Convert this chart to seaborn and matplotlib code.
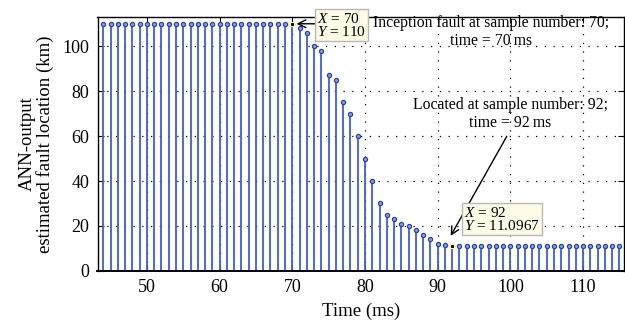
import numpy as np
import matplotlib
matplotlib.use("Agg")
import matplotlib.pyplot as plt
import seaborn as sns

# sample times (ms) and ANN output (km)
time_ms = list(range(44, 116))
ann_km = [110, 110, 110, 110, 110, 110, 110, 110, 110, 110,
          110, 110, 110, 110, 110, 110, 110, 110, 110, 110,
          110, 110, 110, 110, 110, 110, 110,
          108, 106, 100, 98, 87, 85, 75, 70, 60, 50,
          40, 30, 25, 23, 21, 20, 18, 16, 14, 12,
          11.4, 11.0967,
          11.1, 11.1, 11.1, 11.1, 11.1, 11.1, 11.1, 11.1, 11.1, 11.1,
          11.1, 11.1, 11.1, 11.1, 11.1, 11.1, 11.1, 11.1, 11.1, 11.1,
          11.1, 11.1, 11.1]
x_ticks = [50, 60, 70, 80, 90, 100, 110]
y_ticks = [0, 20, 40, 60, 80, 100]
tip_x = [70, 92]
tip_y = [110, 11.0967]

sns.set_style("ticks")
plt.rcParams['font.family'] = ['Liberation Serif', 'DejaVu Serif']
plt.rcParams['mathtext.fontset'] = 'custom'
plt.rcParams['mathtext.rm'] = 'Liberation Serif'
plt.rcParams['mathtext.it'] = 'Liberation Serif:italic'
plt.rcParams['text.color'] = 'black'
plt.rcParams['axes.labelcolor'] = 'black'

fig = plt.figure(figsize=(6.25, 3.34), dpi=100)
ax = fig.add_axes([0.156, 0.189, 0.842, 0.760])

stem_col = '#4660b4'
ax.vlines(time_ms, 0, ann_km, color=stem_col, linewidth=1.5, alpha=0.9, zorder=2)
sns.scatterplot(x=time_ms, y=ann_km, ax=ax, s=9, marker='o', color='#8da0dc',
                edgecolor='#2a45a0', linewidth=0.9, zorder=3, legend=False)
# datatip markers
ax.scatter(tip_x, tip_y, s=5, marker='s', color='black', edgecolor='#ffff80',
           linewidth=0.8, zorder=4)

ax.set_xlim(43.2, 115.6)
ax.set_ylim(0, 113)
ax.set_xticks(x_ticks)
ax.set_yticks(y_ticks)
ax.grid(True, color='black', linestyle=(0, (1, 6)), linewidth=0.9)
ax.tick_params(direction='in', length=4, width=0.8, top=True, right=True,
               labelsize=13, colors='black', pad=6)
for sp in ax.spines.values():
    sp.set_color('black')
    sp.set_linewidth(1.0)
ax.spines['bottom'].set_linewidth(1.4)

ax.set_xlabel('Time (ms)', fontsize=13.5, labelpad=5)
ax.set_ylabel('ANN-output\nestimated fault location (km)', fontsize=13.5,
              labelpad=6, linespacing=1.0)

# annotation 1: inception
ax.annotate('', xy=(70.2, 110), xytext=(80.8, 110),
            arrowprops=dict(arrowstyle='->', color='black', lw=1.0,
                            mutation_scale=14), zorder=5)
ax.text(97.4, 106.2, 'Inception fault at sample number: 70;\ntime = 70\u2009ms',
        ha='center', va='center', multialignment='center', fontsize=11.3,
        linespacing=1.15, zorder=6)
ax.text(73.4, 109.3, '$X$ = 70\n$Y$ = 110', ha='left', va='center',
        fontsize=11, linespacing=0.95, zorder=7, clip_on=False,
        bbox=dict(boxstyle='square,pad=0.15', facecolor='#fbfbe6',
                  edgecolor='#b8b8b8', linewidth=1.0))

# annotation 2: located
ax.annotate('', xy=(91.6, 14.5), xytext=(99.7, 61),
            arrowprops=dict(arrowstyle='->', color='black', lw=1.0,
                            mutation_scale=14), zorder=5)
ax.text(100.0, 70.0, 'Located at sample number: 92;\ntime = 92\u2009ms',
        ha='center', va='center', multialignment='center', fontsize=11.3,
        linespacing=1.15, zorder=6)
ax.text(93.6, 22.9, '$X$ = 92\n$Y$ = 11.0967', ha='left', va='center',
        fontsize=11, linespacing=0.95, zorder=7,
        bbox=dict(boxstyle='square,pad=0.15', facecolor='#fbfbe6',
                  edgecolor='#b8b8b8', linewidth=1.0))

fig.savefig('out.png', dpi=100)
